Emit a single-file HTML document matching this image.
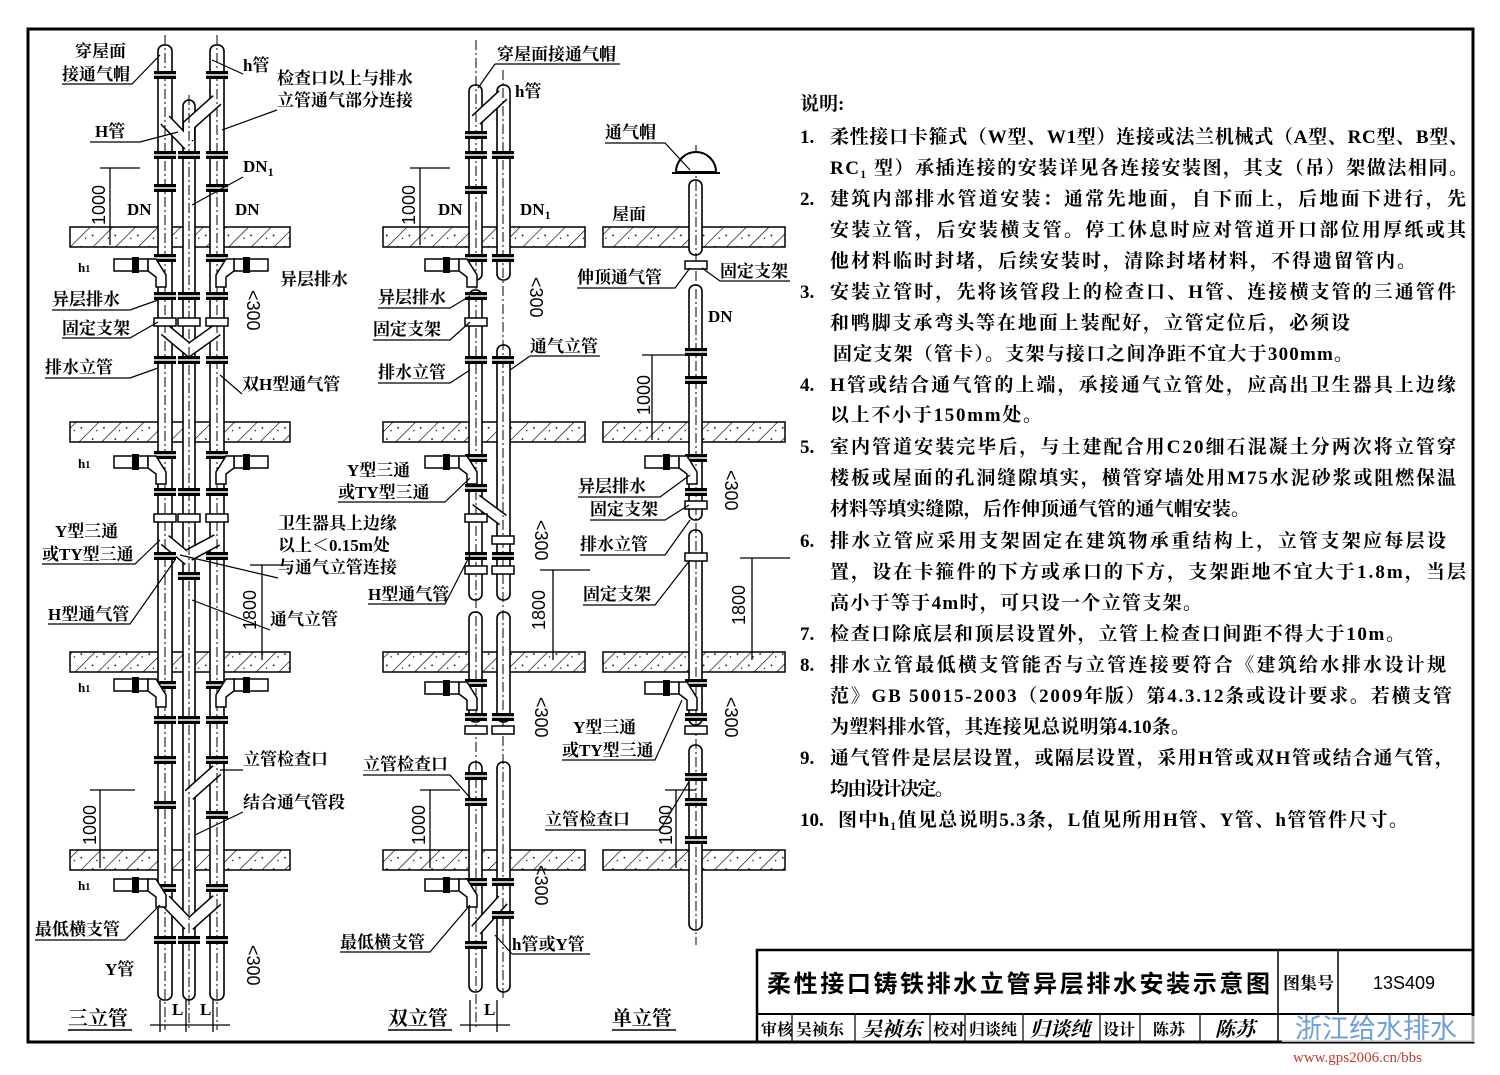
<!DOCTYPE html>
<html><head><meta charset="utf-8"><style>
html,body{margin:0;padding:0;background:#fff}
svg{display:block}
.t{font-family:"Liberation Serif","Noto Serif CJK SC",serif;font-size:17px;font-weight:bold;fill:#000}
.n{font-family:"Liberation Serif","Noto Serif CJK SC",serif;font-size:19px;font-weight:bold;fill:#000}
.d{font-family:"Liberation Sans","Noto Sans CJK SC",sans-serif;font-size:18px;fill:#000}
</style></head><body>
<svg width="1500" height="1075" viewBox="0 0 1500 1075" xmlns="http://www.w3.org/2000/svg">
<defs>
<pattern id="h" width="16" height="16" patternUnits="userSpaceOnUse" patternTransform="rotate(45)">
<rect width="16" height="16" fill="#fff"/><line x1="0" y1="0" x2="0" y2="16" stroke="#000" stroke-width="1.3"/>
<circle cx="8" cy="5" r="0.9" fill="#000"/><circle cx="5" cy="12" r="0.7" fill="#000"/></pattern>
<g id="c"><rect x="-11" y="-4" width="22" height="8" fill="#000"/><line x1="-11" y1="0" x2="11" y2="0" stroke="#fff" stroke-width="1.5"/></g>
<g id="s"><rect x="-11" y="-4" width="22" height="8" fill="#fff" stroke="#000" stroke-width="1.5"/></g>
<g id="br"><rect x="-44" y="-6" width="34" height="12" fill="#fff" stroke="#000" stroke-width="1.5"/><rect x="-26" y="-8" width="7" height="16" fill="#000"/><path d="M-10,-6 L-2,-6 L8,10 L8,22 L-2,22 L-2,12 L-10,6 Z" fill="#fff" stroke="#000" stroke-width="1.5"/></g>
<g id="brr"><use href="#br" transform="scale(-1,1)"/></g>
</defs>
<rect width="1500" height="1075" fill="#fff"/>
<rect x="28" y="29" width="1445" height="1013" fill="none" stroke="#000" stroke-width="3"/>

<g stroke="#000" stroke-width="1.5" fill="url(#h)">
<rect x="70" y="227" width="220" height="20"/><rect x="383" y="227" width="202" height="20"/><rect x="603" y="227" width="182" height="20"/>
<rect x="70" y="422" width="220" height="20"/><rect x="383" y="422" width="202" height="20"/><rect x="603" y="422" width="182" height="20"/>
<rect x="70" y="652" width="220" height="20"/><rect x="383" y="652" width="202" height="20"/><rect x="603" y="652" width="182" height="20"/>
<rect x="70" y="850" width="220" height="20"/><rect x="383" y="850" width="202" height="20"/><rect x="603" y="850" width="182" height="20"/>
</g>

<g fill="#fff" stroke="#000" stroke-width="1.6">
<rect x="158" y="45" width="14" height="955" rx="6"/>
<rect x="183" y="100" width="12" height="900" rx="6"/>
<rect x="210" y="45" width="14" height="955" rx="6"/>
<rect x="469" y="85" width="13" height="195" rx="6"/><rect x="469" y="290" width="13" height="310" rx="6"/><rect x="469" y="612" width="13" height="110" rx="6"/><rect x="469" y="762" width="13" height="230" rx="6"/>
<rect x="497" y="85" width="13" height="195" rx="6"/><rect x="497" y="345" width="13" height="255" rx="6"/><rect x="497" y="612" width="13" height="110" rx="6"/><rect x="497" y="762" width="13" height="230" rx="6"/>
<rect x="689" y="180" width="13" height="75" rx="6"/><rect x="689" y="285" width="13" height="235" rx="6"/><rect x="689" y="530" width="13" height="195" rx="6"/><rect x="689" y="745" width="13" height="185" rx="6"/>
</g>
<g fill="none" stroke-linecap="butt">
<g stroke="#000" stroke-width="13">
<path d="M217,100 L189,125 L189,140"/><path d="M165,120 L189,145"/>
<path d="M165,330 L189,350 L217,330"/><path d="M165,540 L189,560"/><path d="M189,555 L217,540"/>
<path d="M217,770 L189,795"/><path d="M165,900 L189,925"/><path d="M217,900 L189,925"/>
<path d="M503,95 L476,120"/><path d="M476,500 L503,520"/><path d="M503,900 L476,930"/>
</g>
<g stroke="#fff" stroke-width="10">
<path d="M217,100 L189,125 L189,140"/><path d="M165,120 L189,145"/>
<path d="M165,330 L189,350 L217,330"/><path d="M165,540 L189,560"/><path d="M189,555 L217,540"/>
<path d="M217,770 L189,795"/><path d="M165,900 L189,925"/><path d="M217,900 L189,925"/>
<path d="M503,95 L476,120"/><path d="M476,500 L503,520"/><path d="M503,900 L476,930"/>
</g>
</g>
<g stroke="#000" stroke-width="1" stroke-dasharray="10,3,2,3">
<line x1="165" y1="35" x2="165" y2="1030"/><line x1="189" y1="95" x2="189" y2="1030"/><line x1="217" y1="35" x2="217" y2="1030"/>
<line x1="476" y1="40" x2="476" y2="1030"/><line x1="503" y1="70" x2="503" y2="1000"/><line x1="696" y1="145" x2="696" y2="945"/>
</g>
<path d="M676,172 A20,20 0 0 1 716,172 Z" fill="#fff" stroke="#000" stroke-width="2"/>
<line x1="672" y1="173" x2="720" y2="173" stroke="#000" stroke-width="2"/>

<g>
<use href="#c" x="165" y="75"/><use href="#c" x="217" y="75"/>
<use href="#c" x="165" y="155"/><use href="#c" x="189" y="155"/><use href="#c" x="217" y="155"/>
<use href="#c" x="165" y="188"/><use href="#c" x="217" y="188"/>
<use href="#c" x="165" y="258"/><use href="#c" x="217" y="258"/>
<use href="#c" x="165" y="296"/><use href="#c" x="189" y="296"/><use href="#c" x="217" y="296"/>
<use href="#s" x="165" y="322"/><use href="#s" x="189" y="322"/><use href="#s" x="217" y="322"/>
<use href="#c" x="165" y="360"/><use href="#c" x="189" y="360"/><use href="#c" x="217" y="360"/>
<use href="#c" x="165" y="455"/><use href="#c" x="217" y="455"/>
<use href="#c" x="165" y="492"/><use href="#c" x="189" y="492"/><use href="#c" x="217" y="492"/>
<use href="#s" x="165" y="518"/><use href="#s" x="189" y="518"/><use href="#s" x="217" y="518"/>
<use href="#c" x="165" y="556"/><use href="#c" x="189" y="576"/><use href="#c" x="217" y="556"/>
<use href="#c" x="165" y="685"/><use href="#c" x="217" y="685"/>
<use href="#c" x="165" y="720"/><use href="#c" x="189" y="720"/><use href="#c" x="217" y="720"/>
<use href="#c" x="165" y="760"/><use href="#c" x="217" y="760"/>
<use href="#c" x="165" y="805"/><use href="#c" x="217" y="815"/>
<use href="#c" x="165" y="888"/><use href="#c" x="217" y="888"/>
<use href="#c" x="165" y="940"/><use href="#c" x="189" y="940"/><use href="#c" x="217" y="940"/>
<use href="#c" x="476" y="135"/><use href="#c" x="476" y="155"/><use href="#c" x="503" y="155"/>
<use href="#c" x="476" y="190"/><use href="#c" x="476" y="258"/><use href="#c" x="476" y="296"/><use href="#c" x="503" y="258"/><use href="#s" x="476" y="322"/>
<use href="#c" x="476" y="360"/><use href="#c" x="503" y="360"/><use href="#c" x="476" y="458"/><use href="#c" x="476" y="488"/><use href="#s" x="476" y="518"/><use href="#s" x="503" y="540"/>
<use href="#c" x="476" y="556"/><use href="#c" x="503" y="556"/><use href="#s" x="476" y="570"/><use href="#s" x="503" y="570"/>
<use href="#c" x="476" y="683"/><use href="#c" x="476" y="717"/><use href="#c" x="503" y="717"/><use href="#s" x="476" y="730"/><use href="#s" x="503" y="730"/>
<use href="#c" x="476" y="776"/><use href="#c" x="476" y="802"/><use href="#c" x="476" y="882"/><use href="#c" x="503" y="882"/><use href="#c" x="476" y="945"/><use href="#c" x="503" y="915"/>
<use href="#s" x="696" y="265"/><use href="#c" x="696" y="352"/><use href="#c" x="696" y="380"/><use href="#c" x="696" y="458"/><use href="#c" x="696" y="492"/><use href="#s" x="696" y="505"/>
<use href="#s" x="696" y="557"/><use href="#c" x="696" y="683"/><use href="#c" x="696" y="717"/><use href="#s" x="696" y="730"/><use href="#c" x="696" y="777"/><use href="#c" x="696" y="802"/><use href="#c" x="696" y="840"/>
</g>
<use href="#br" x="158" y="265"/><use href="#brr" x="224" y="265"/>
<use href="#br" x="158" y="462"/><use href="#brr" x="224" y="462"/>
<use href="#br" x="158" y="685"/><use href="#brr" x="224" y="685"/>
<use href="#br" x="158" y="885"/>
<use href="#br" x="469" y="265"/><use href="#br" x="469" y="462"/><use href="#br" x="469" y="688"/><use href="#br" x="469" y="885"/>
<use href="#br" x="689" y="462"/><use href="#br" x="689" y="688"/>

<g stroke="#000" stroke-width="1.3" fill="none">
<path d="M110,168 V245 M100,168 H140"/><path d="M420,168 V245 M410,168 H450"/><path d="M652,355 V440 M642,355 H690"/>
<path d="M262,565 V660 M250,565 H290"/><path d="M553,570 V660 M540,570 H590"/><path d="M752,558 V660 M740,558 H790"/>
<path d="M100,790 V868 M90,790 H135"/><path d="M430,790 V868 M420,790 H460"/><path d="M676,790 V868 M665,790 H696"/>
<path d="M160,1000 V1032 M186,1000 V1032 M213,1000 V1032 M470,1000 V1032 M497,1000 V1032 M150,1025 H230 M460,1025 H510"/>
</g>
<g stroke="#000" stroke-width="1.2" fill="none">
<path d="M62,84 H132 L160,55"/><path d="M90,142 H140 L178,132"/><path d="M243,74 L212,60"/><path d="M277,110 L222,130"/>
<path d="M243,177 L192,205"/><path d="M52,310 H130 L158,300"/><path d="M62,338 H130 L158,322"/><path d="M45,378 H130 L158,368"/>
<path d="M242,394 L220,375"/><path d="M42,564 H135 L160,540"/><path d="M48,624 H130 L175,560"/><path d="M270,630 L192,600"/>
<path d="M243,770 L220,770"/><path d="M243,812 L195,835"/><path d="M35,940 H125 L160,905"/><path d="M278,578 L180,555"/>
<path d="M495,64 H620"/><path d="M495,64 L478,88"/><path d="M378,308 H450 L470,296"/><path d="M373,340 H450 L470,322"/>
<path d="M378,383 H450 L470,370"/><path d="M530,356 H600"/><path d="M530,356 L510,370"/><path d="M338,502 H445 L470,478"/>
<path d="M368,604 H445 L470,555"/><path d="M363,775 H450 L472,800"/><path d="M340,952 H430 L470,905"/><path d="M512,954 H590"/><path d="M512,954 L495,935"/>
<path d="M605,143 H665 L690,170"/><path d="M577,288 H675 L690,268"/><path d="M720,281 H790"/><path d="M720,281 L702,268"/>
<path d="M578,497 H660 L690,475"/><path d="M590,520 H665 L689,505"/><path d="M580,555 H665 L690,520"/><path d="M583,605 H655 L690,560"/>
<path d="M562,760 H655 L682,700"/><path d="M545,830 H660 L690,780"/>
</g>

<g class="t">
<text x="75" y="57">穿屋面</text><text x="62" y="80">接通气帽</text>
<text x="95" y="137">H管</text><text x="243" y="71">h管</text>
<text x="277" y="84">检查口以上与排水</text><text x="277" y="106">立管通气部分连接</text>
<text x="243" y="172">DN<tspan font-size="12" dy="4">1</tspan></text>
<text x="127" y="215">DN</text><text x="235" y="215">DN</text>
<text x="78" y="272" font-size="13">h<tspan font-size="10">1</tspan></text>
<text x="52" y="305">异层排水</text><text x="280" y="285">异层排水</text>
<text x="62" y="334">固定支架</text><text x="45" y="373">排水立管</text><text x="242" y="390">双H型通气管</text>
<text x="78" y="468" font-size="13">h<tspan font-size="10">1</tspan></text>
<text x="55" y="537">Y型三通</text><text x="42" y="560">或TY型三通</text>
<text x="278" y="529">卫生器具上边缘</text><text x="278" y="551">以上＜0.15m处</text><text x="278" y="573">与通气立管连接</text>
<text x="48" y="620">H型通气管</text><text x="270" y="625">通气立管</text>
<text x="78" y="692" font-size="13">h<tspan font-size="10">1</tspan></text>
<text x="243" y="765">立管检查口</text><text x="243" y="808">结合通气管段</text>
<text x="78" y="890" font-size="13">h<tspan font-size="10">1</tspan></text>
<text x="35" y="935">最低横支管</text><text x="105" y="975">Y管</text>
<text x="172" y="1015">L</text><text x="200" y="1015">L</text>

<text x="497" y="60">穿屋面接通气帽</text><text x="515" y="97">h管</text>
<text x="438" y="215">DN</text><text x="520" y="215">DN<tspan font-size="12" dy="4">1</tspan></text>
<text x="378" y="303">异层排水</text><text x="373" y="335">固定支架</text>
<text x="378" y="378">排水立管</text><text x="530" y="352">通气立管</text>
<text x="347" y="476">Y型三通</text><text x="338" y="498">或TY型三通</text>
<text x="368" y="600">H型通气管</text>
<text x="363" y="770">立管检查口</text><text x="340" y="948">最低横支管</text><text x="512" y="950">h管或Y管</text>
<text x="484" y="1015">L</text>

<text x="605" y="138">通气帽</text><text x="612" y="220">屋面</text><text x="577" y="283">伸顶通气管</text><text x="720" y="277">固定支架</text>
<text x="708" y="322">DN</text><text x="578" y="492">异层排水</text><text x="590" y="515">固定支架</text>
<text x="580" y="550">排水立管</text><text x="583" y="600">固定支架</text>
<text x="573" y="733">Y型三通</text><text x="562" y="756">或TY型三通</text><text x="545" y="825">立管检查口</text>
</g>
<g class="d">
<text transform="translate(105,225) rotate(-90)">1000</text>
<text transform="translate(415,225) rotate(-90)">1000</text>
<text transform="translate(650,415) rotate(-90)">1000</text>
<text transform="translate(256,630) rotate(-90)">1800</text>
<text transform="translate(545,630) rotate(-90)">1800</text>
<text transform="translate(745,625) rotate(-90)">1800</text>
<text transform="translate(96,845) rotate(-90)">1000</text>
<text transform="translate(425,845) rotate(-90)">1000</text>
<text transform="translate(672,845) rotate(-90)">1000</text>
<text transform="translate(247,290) rotate(90)">&lt;300</text>
<text transform="translate(530,277) rotate(90)">&lt;300</text>
<text transform="translate(535,520) rotate(90)">&lt;300</text>
<text transform="translate(535,697) rotate(90)">&lt;300</text>
<text transform="translate(725,470) rotate(90)">&lt;300</text>
<text transform="translate(725,697) rotate(90)">&lt;300</text>
<text transform="translate(535,865) rotate(90)">&lt;300</text>
<text transform="translate(247,945) rotate(90)">&lt;300</text>
</g>
<g class="t">
<text x="68" y="1025" font-size="20">三立管</text><text x="388" y="1025" font-size="20">双立管</text><text x="612" y="1025" font-size="20">单立管</text>
</g>
<g stroke="#000" stroke-width="1.5"><line x1="68" y1="1030" x2="132" y2="1030"/><line x1="388" y1="1030" x2="452" y2="1030"/><line x1="612" y1="1030" x2="676" y2="1030"/></g>

<g class="n">
<text x="800" y="110">说明:</text>
<text x="800" y="143">1.</text><text x="830" y="143" textLength="638">柔性接口卡箍式（W型、W1型）连接或法兰机械式（A型、RC型、B型、</text>
<text x="830" y="174" textLength="638">RC₁ 型）承插连接的安装详见各连接安装图，其支（吊）架做法相同。</text>
<text x="800" y="205">2.</text><text x="830" y="205" textLength="636">建筑内部排水管道安装：通常先地面，自下而上，后地面下进行，先</text>
<text x="830" y="236" textLength="636">安装立管，后安装横支管。停工休息时应对管道开口部位用厚纸或其</text>
<text x="830" y="267" textLength="586">他材料临时封堵，后续安装时，清除封堵材料，不得遗留管内。</text>
<text x="800" y="298">3.</text><text x="830" y="298" textLength="626">安装立管时，先将该管段上的检查口、H管、连接横支管的三通管件</text>
<text x="830" y="329" textLength="520">和鸭脚支承弯头等在地面上装配好，立管定位后，必须设</text>
<text x="833" y="360" textLength="520">固定支架（管卡）。支架与接口之间净距不宜大于300mm。</text>
<text x="800" y="391">4.</text><text x="830" y="391" textLength="626">H管或结合通气管的上端，承接通气立管处，应高出卫生器具上边缘</text>
<text x="830" y="421" textLength="212">以上不小于150mm处。</text>
<text x="800" y="453">5.</text><text x="830" y="453" textLength="626">室内管道安装完毕后，与土建配合用C20细石混凝土分两次将立管穿</text>
<text x="830" y="484" textLength="626">楼板或屋面的孔洞缝隙填实，横管穿墙处用M75水泥砂浆或阻燃保温</text>
<text x="830" y="515" textLength="420">材料等填实缝隙，后作伸顶通气管的通气帽安装。</text>
<text x="800" y="547">6.</text><text x="830" y="547" textLength="616">排水立管应采用支架固定在建筑物承重结构上，立管支架应每层设</text>
<text x="830" y="578" textLength="636">置，设在卡箍件的下方或承口的下方，支架距地不宜大于1.8m，当层</text>
<text x="830" y="609" textLength="372">高小于等于4m时，可只设一个立管支架。</text>
<text x="800" y="640">7.</text><text x="830" y="640" textLength="575">检查口除底层和顶层设置外，立管上检查口间距不得大于10m。</text>
<text x="800" y="671">8.</text><text x="830" y="671" textLength="616">排水立管最低横支管能否与立管连接要符合《建筑给水排水设计规</text>
<text x="830" y="702" textLength="622">范》GB 50015-2003（2009年版）第4.3.12条或设计要求。若横支管</text>
<text x="830" y="733" textLength="360">为塑料排水管，其连接见总说明第4.10条。</text>
<text x="800" y="764">9.</text><text x="830" y="764" textLength="624">通气管件是层层设置，或隔层设置，采用H管或双H管或结合通气管，</text>
<text x="830" y="795" textLength="124">均由设计决定。</text>
<text x="800" y="826">10.</text><text x="838" y="826" textLength="570">图中h₁值见总说明5.3条，L值见所用H管、Y管、h管管件尺寸。</text>
</g>

<g stroke="#000" fill="none">
<rect x="757" y="950" width="716" height="92" stroke-width="2.5"/>
<line x1="757" y1="1014" x2="1473" y2="1014" stroke-width="2"/>
<line x1="1278" y1="950" x2="1278" y2="1042" stroke-width="1.5"/>
<line x1="1338" y1="950" x2="1338" y2="1014" stroke-width="1.5"/>
<g stroke-width="1.2"><line x1="792" y1="1014" x2="792" y2="1042"/><line x1="855" y1="1014" x2="855" y2="1042"/><line x1="930" y1="1014" x2="930" y2="1042"/><line x1="965" y1="1014" x2="965" y2="1042"/><line x1="1023" y1="1014" x2="1023" y2="1042"/><line x1="1100" y1="1014" x2="1100" y2="1042"/><line x1="1140" y1="1014" x2="1140" y2="1042"/><line x1="1200" y1="1014" x2="1200" y2="1042"/></g>
</g>
<text x="767" y="992" font-family="Liberation Sans,'Noto Sans CJK SC',sans-serif" font-weight="bold" font-size="24" textLength="503">柔性接口铸铁排水立管异层排水安装示意图</text>
<text x="1283" y="989" class="t" font-size="18">图集号</text>
<text x="1373" y="989" class="d" font-size="20">13S409</text>
<g class="t">
<text x="761" y="1035" font-size="16">审核</text><text x="796" y="1035" font-size="16">吴祯东</text><text x="862" y="1036" font-size="20" font-style="italic">吴祯东</text>
<text x="933" y="1035" font-size="16">校对</text><text x="969" y="1035" font-size="16">归谈纯</text><text x="1030" y="1036" font-size="20" font-style="italic">归谈纯</text>
<text x="1103" y="1035" font-size="16">设计</text><text x="1153" y="1035" font-size="16">陈苏</text><text x="1215" y="1036" font-size="20" font-style="italic">陈苏</text>
</g>
<rect x="1282" y="1016" width="210" height="26" fill="#fff" opacity="0.7"/>
<text x="1295" y="1038" font-family="Liberation Sans,'Noto Sans CJK SC',sans-serif" font-size="27" fill="#6e9fd8">浙江给水排水</text>
<text x="1293" y="1062" font-family="Liberation Serif,serif" font-size="15" fill="#c0392b">www.gps2006.cn/bbs</text>
</svg>
</body></html>
